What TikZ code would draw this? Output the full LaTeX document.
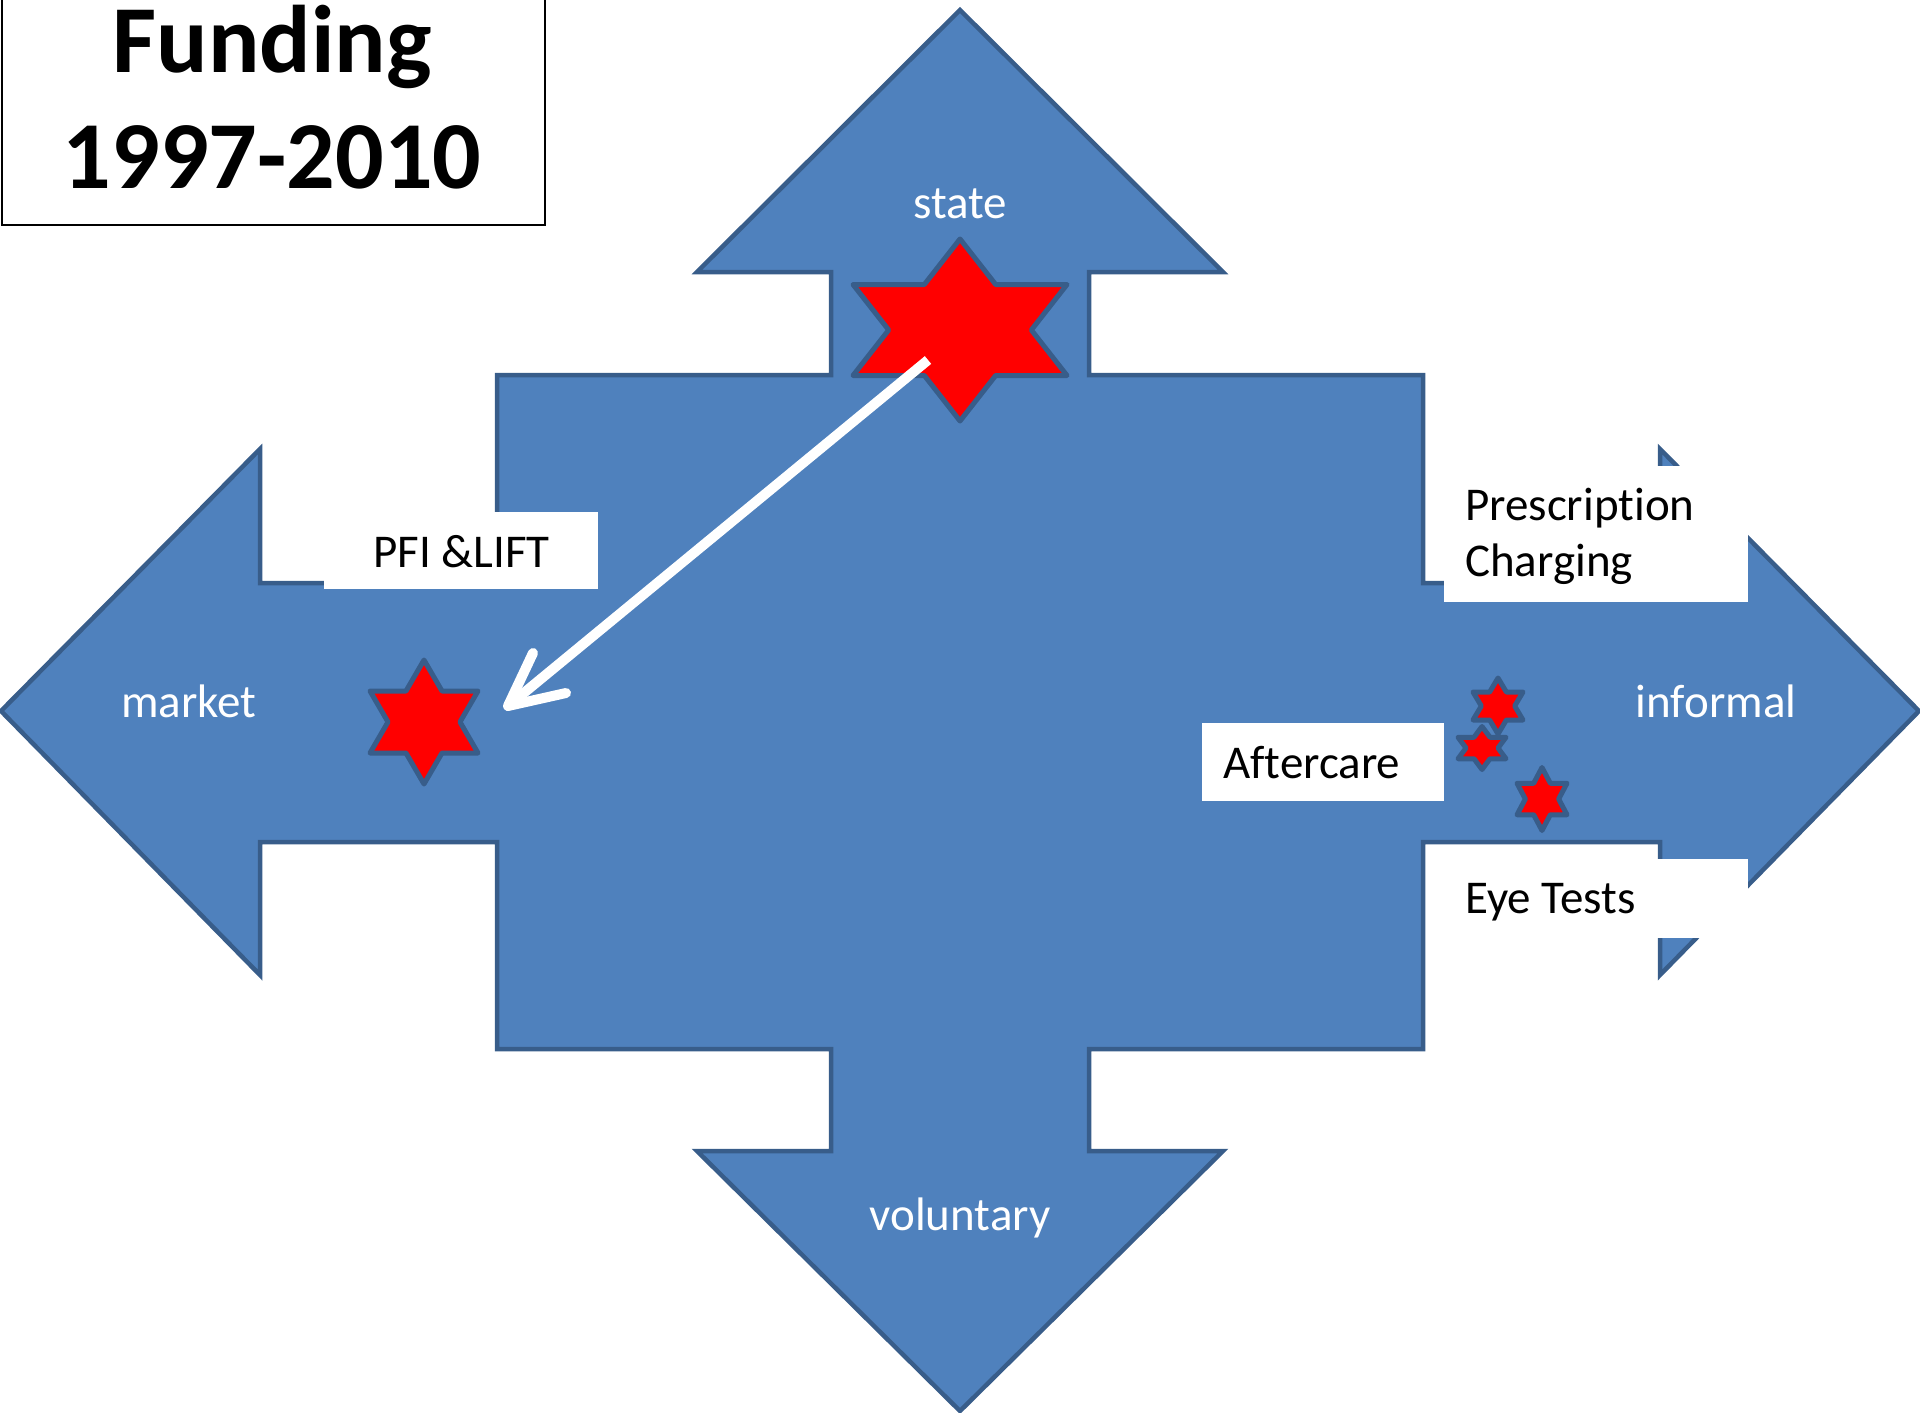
\documentclass[tikz,border=0pt]{standalone}
\usepackage{fontspec}
\setmainfont{Carlito}[Ligatures={NoCommon}, RawFeature={-liga;-clig;-dlig;-calt}]
\definecolor{shapeblue}{HTML}{4F81BD}
\definecolor{shapeline}{HTML}{385D8A}
\begin{document}
\begin{tikzpicture}[x=1pt,y=-1pt,
  crossshape/.style={fill=shapeblue, draw=shapeline, line width=4.5pt, line join=miter},
  starsty/.style={fill=red, draw=shapeline, line width=5pt, line join=round},
  wbox/.style={fill=white, draw=none, rectangle, inner sep=0pt, outer sep=0pt, anchor=north west},
  wlabel/.style={text=white, inner sep=0pt, anchor=base, font=\fontsize{47}{56}\selectfont},
  blabel/.style={text=black, inner sep=0pt, anchor=base west, font=\fontsize{47}{56}\selectfont},
  titlelabel/.style={text=black, inner sep=0pt, anchor=base, font=\fontsize{96}{115}\selectfont\bfseries},
  shaftline/.style={draw=white, line width=10pt, line cap=butt},
  barbline/.style={draw=white, line width=10pt, line cap=round, line join=round},
  hexstar/.pic={
    \path[starsty] (0,-1) -- (0.3333,-0.5) -- (1,-0.5) -- (0.6667,0) -- (1,0.5) -- (0.3333,0.5)
      -- (0,1) -- (-0.3333,0.5) -- (-1,0.5) -- (-0.6667,0) -- (-1,-0.5) -- (-0.3333,-0.5) -- cycle;
    \coordinate (-c) at (0,0);
  }
]
\useasboundingbox (0,0) rectangle (1920,1413);
\clip (0,0) rectangle (1920,1413);

% the four-way arrow shape
\path[crossshape] (960,10) -- (1223,272) -- (1089,272) -- (1089,375) -- (1423,375) -- (1423,583)
  -- (1660,583) -- (1660,449) -- (1919,711) -- (1660,975) -- (1660,842) -- (1423,842)
  -- (1423,1049) -- (1089,1049) -- (1089,1151) -- (1223,1151) -- (960,1411) -- (697,1151)
  -- (831,1151) -- (831,1049) -- (497,1049) -- (497,842) -- (260,842) -- (260,975)
  -- (1,711) -- (260,449) -- (260,583) -- (497,583) -- (497,375) -- (831,375) -- (831,272)
  -- (697,272) -- cycle;

% direction labels
\node[wlabel] (state) at (960,218) {state};
\node[wlabel] (market) at (189,717) {market};
\node[wlabel] (informal) at (1716,717) {informal};
\node[wlabel] (voluntary) at (960,1230) {voluntary};

% white text boxes
\node[wbox, minimum width=274pt, minimum height=77pt] (pfibox) at (324,512) {};
\node[wbox, minimum width=304pt, minimum height=136pt] (presbox) at (1444,466) {};
\node[wbox, minimum width=242pt, minimum height=78pt] (aftbox) at (1202,723) {};
\node[wbox, minimum width=304pt, minimum height=79pt] (eyebox) at (1444,859) {};

\node[blabel] (pfi) at (373,567) {PFI \&LIFT};
\node[blabel] (pres1) at (1465,520) {Prescript\kern0pt ion};
\node[blabel] (pres2) at (1465,576) {Charging};
\node[blabel] (aft) at (1223,778) {Aftercare};
\node[blabel] (eye) at (1465,913) {Eye Tests};

% stars
\pic[xscale=107, yscale=91] (bigstar) at (960,330) {hexstar};
\pic[xscale=54, yscale=62] (marketstar) at (424,722) {hexstar};
\pic[xscale=25, yscale=28] (starA) at (1498,706) {hexstar};
\pic[xscale=24, yscale=21.5] (starB) at (1482,748) {hexstar};
\pic[xscale=25, yscale=31.5] (starC) at (1542,799) {hexstar};

% white arrow from state star towards market star
\coordinate (arrowstart) at (928,360);
\coordinate (arrowtip) at (508,706);
\coordinate (barbA) at (533,653);
\coordinate (barbB) at (566,693);
\draw[shaftline] (arrowstart) -- (arrowtip);
\draw[barbline] (barbA) -- (arrowtip) -- (barbB);

% title box
\node[draw=black, line width=2pt, fill=white, rectangle, inner sep=0pt, anchor=north west,
  minimum width=543pt, minimum height=234pt] (titlebox) at (1,-10) {};
\node[titlelabel] (title1) at (272,73) {Funding};
\node[titlelabel] (title2) at (272,188) {1997-2010};
\end{tikzpicture}
\end{document}
